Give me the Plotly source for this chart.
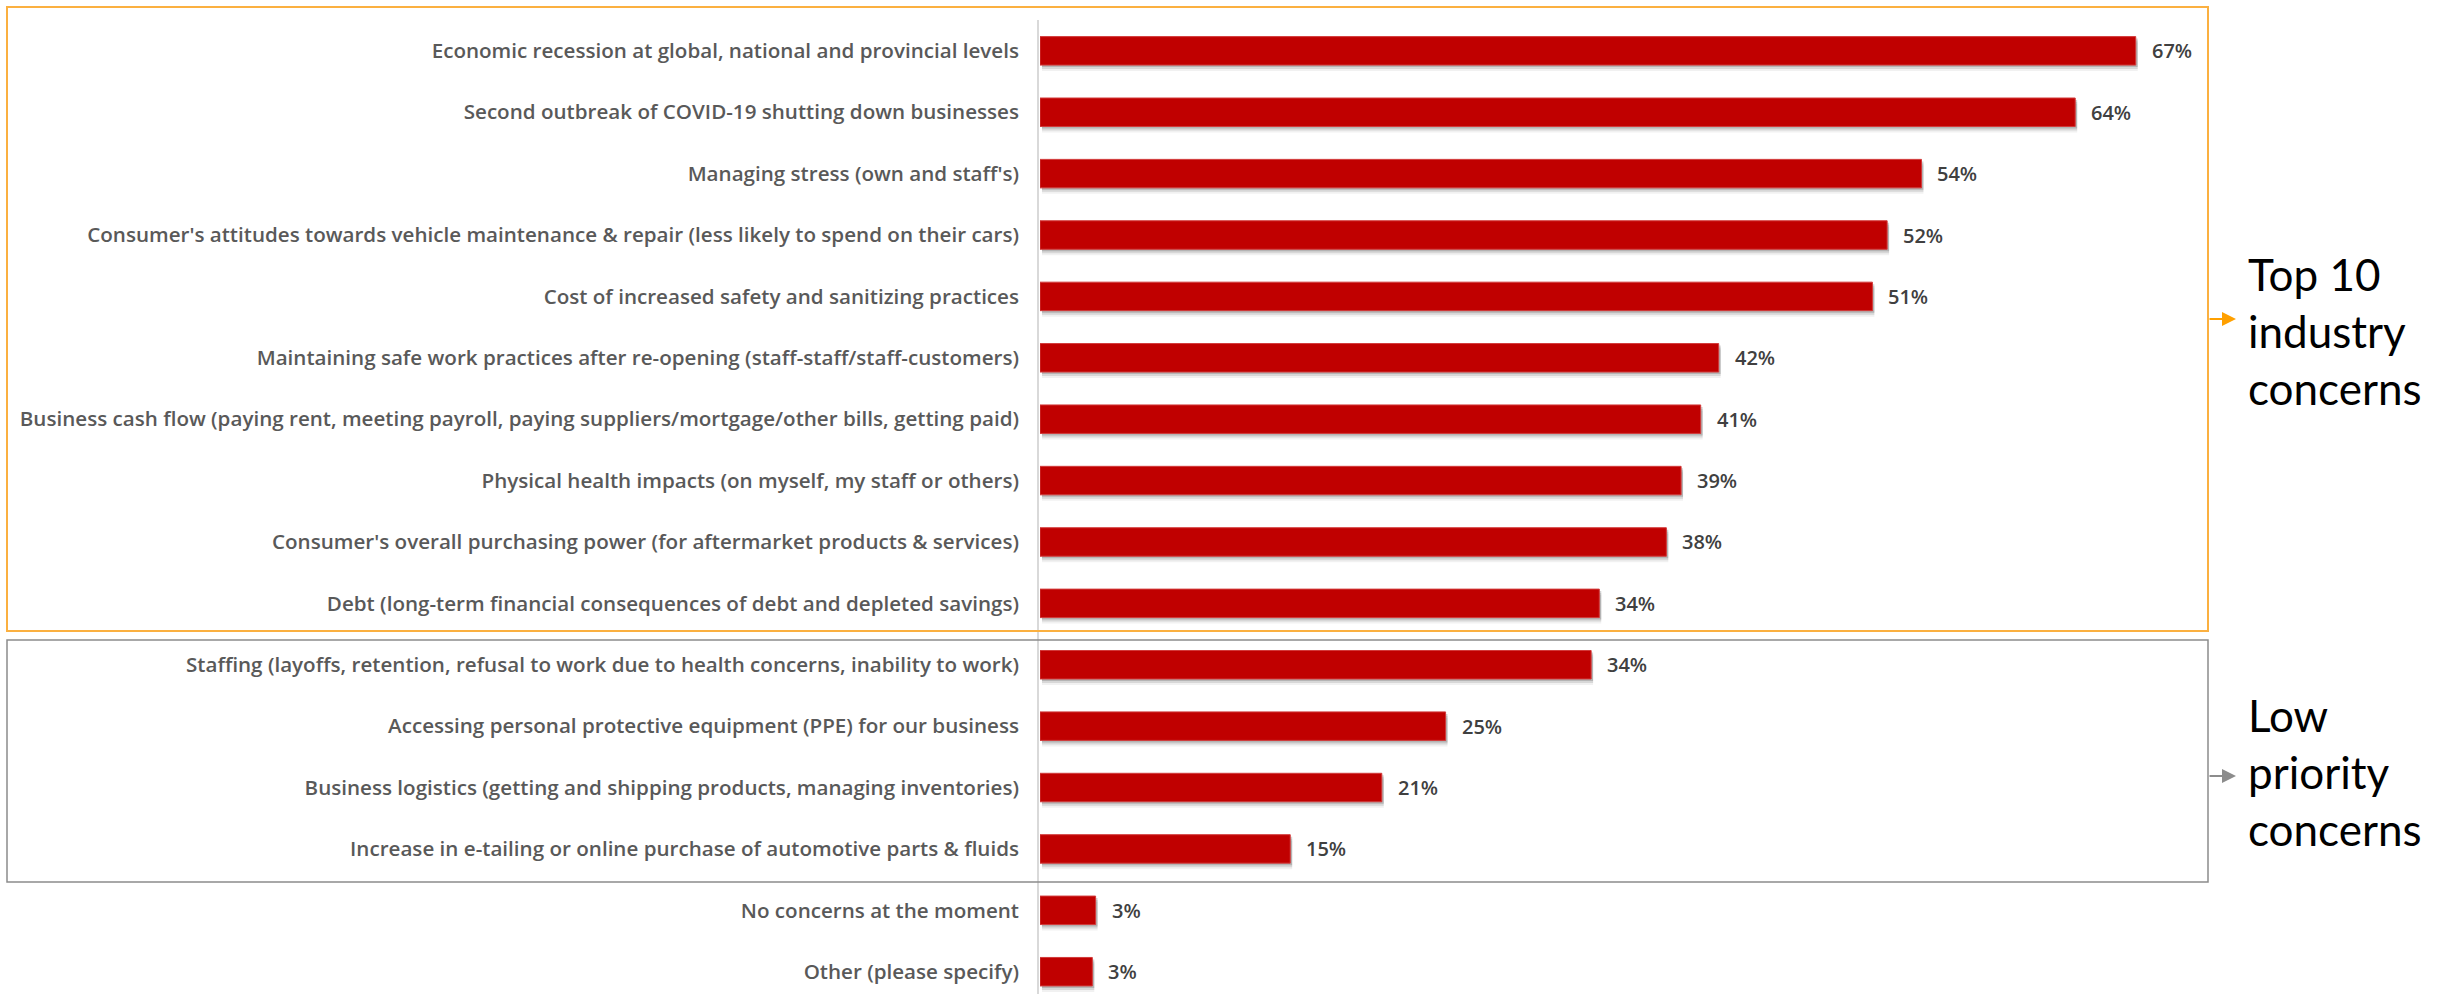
import plotly.graph_objects as go

W, H = 2442, 994

categories = [
    "Economic recession at global, national and provincial levels",
    "Second outbreak of COVID-19 shutting down businesses",
    "Managing stress (own and staff's)",
    "Consumer's attitudes towards vehicle maintenance & repair (less likely to spend on their cars)",
    "Cost of increased safety and sanitizing practices",
    "Maintaining safe work practices after re-opening (staff-staff/staff-customers)",
    "Business cash flow (paying rent, meeting payroll, paying suppliers/mortgage/other bills, getting paid)",
    "Physical health impacts (on myself, my staff or others)",
    "Consumer's overall purchasing power (for aftermarket products & services)",
    "Debt (long-term financial consequences of debt and depleted savings)",
    "Staffing (layoffs, retention, refusal to work due to health concerns, inability to work)",
    "Accessing personal protective equipment (PPE) for our business",
    "Business logistics (getting and shipping products, managing inventories)",
    "Increase in e-tailing or online purchase of automotive parts & fluids",
    "No concerns at the moment",
    "Other (please specify)",
]
values = [67.0, 63.3, 53.9, 51.8, 50.9, 41.5, 40.4, 39.2, 38.3, 34.2,
          33.7, 24.8, 20.9, 15.3, 3.4, 3.2]
value_labels = ["67%", "64%", "54%", "52%", "51%", "42%", "41%", "39%", "38%", "34%",
                "34%", "25%", "21%", "15%", "3%", "3%"]

group_labels = ["Top 10<br>industry<br>concerns", "Low<br>priority<br>concerns"]


def px(x):
    return x / W


def py(y):
    return 1 - y / H


BAR_W = 0.464
BAND = 61.39  # pixels per category
fig = go.Figure()

# soft drop shadow layers
for shift, alpha in [(2, 0.22), (4, 0.14), (6, 0.07)]:
    fig.add_trace(go.Bar(
        y=categories, x=values, orientation="h",
        width=BAR_W, offset=-BAR_W / 2 + shift / BAND, base=0.12,
        marker=dict(color=f"rgba(60,60,60,{alpha})", line=dict(width=0)),
        hoverinfo="skip", showlegend=False,
    ))

fig.add_trace(go.Bar(
    y=categories, x=values, orientation="h", width=BAR_W,
    marker=dict(color="#C00000", line=dict(color="#D23A3A", width=1)),
    showlegend=False,
))

annotations = []
for c, v, t in zip(categories, values, value_labels):
    annotations.append(dict(
        x=v, y=c, xref="x", yref="y", text=t, showarrow=False,
        xanchor="left", yanchor="middle", xshift=14,
        font=dict(family="Open Sans", size=20, weight=600, color="#404040"),
    ))

# group captions
annotations.append(dict(
    x=px(2246), y=py(331), xref="paper", yref="paper", text=group_labels[0],
    showarrow=False, xanchor="left", yanchor="middle", align="left",
    font=dict(family="Lato", size=44, color="#000000"),
))
annotations.append(dict(
    x=px(2246), y=py(772), xref="paper", yref="paper", text=group_labels[1],
    showarrow=False, xanchor="left", yanchor="middle", align="left",
    font=dict(family="Lato", size=44, color="#000000"),
))
# arrows
annotations.append(dict(
    x=px(2236), y=py(319), xref="paper", yref="paper", text="",
    showarrow=True, ax=-28, ay=0, axref="pixel", ayref="pixel",
    arrowhead=2, arrowsize=1.4, arrowwidth=2, arrowcolor="#FFA000",
    standoff=0, startstandoff=0,
))
annotations.append(dict(
    x=px(2236), y=py(776), xref="paper", yref="paper", text="",
    showarrow=True, ax=-28, ay=0, axref="pixel", ayref="pixel",
    arrowhead=2, arrowsize=1.4, arrowwidth=2, arrowcolor="#8C8C8C",
    standoff=0, startstandoff=0,
))

shapes = [
    # y axis line
    dict(type="line", xref="paper", yref="paper", x0=px(1038), x1=px(1038),
         y0=py(20), y1=py(994), line=dict(color="#D9D9D9", width=2), layer="below"),
    # top-10 box
    dict(type="rect", xref="paper", yref="paper", x0=px(7), x1=px(2208),
         y0=py(7), y1=py(631), line=dict(color="#FBB040", width=2)),
    # low priority box
    dict(type="rect", xref="paper", yref="paper", x0=px(7), x1=px(2208),
         y0=py(640), y1=py(882), line=dict(color="#8C8C8C", width=1.5)),
]

top_c = 50.85
r_bottom = (H - top_c) / BAND
r_top = -top_c / BAND
x_max = (W - 1040) / 16.354

fig.update_layout(
    width=W, height=H,
    margin=dict(l=0, r=0, t=0, b=0),
    paper_bgcolor="white", plot_bgcolor="white",
    barmode="overlay",
    showlegend=False,
    xaxis=dict(domain=[1040 / W, 1], range=[0, x_max], visible=False,
               showgrid=False, zeroline=False, fixedrange=True),
    yaxis=dict(domain=[0, 1], range=[r_bottom, r_top], type="category",
               categoryorder="array", categoryarray=categories,
               showgrid=False, zeroline=False, showline=False, ticks="",
               ticklabelstandoff=20,
               tickfont=dict(family="Open Sans", size=20.6, weight=600, color="#595959")),
    shapes=shapes,
    annotations=annotations,
    font=dict(family="Open Sans"),
)

fig.write_html("out.html")
